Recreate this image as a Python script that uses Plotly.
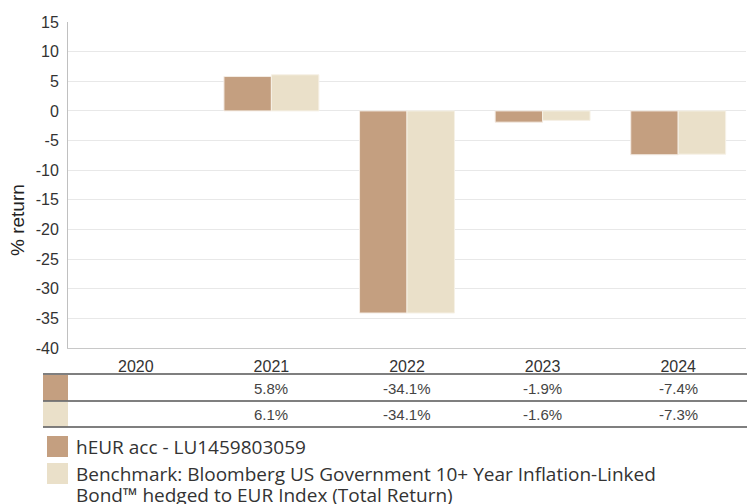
import plotly.graph_objects as go

years = ["2020", "2021", "2022", "2023", "2024"]
fund_name = "hEUR acc - LU1459803059"
bench_name_1 = "Benchmark: Bloomberg US Government 10+ Year Inflation-Linked"
bench_name_2 = "Bond™ hedged to EUR Index (Total Return)"
fund_values = [None, 5.8, -34.1, -1.9, -7.4]
bench_values = [None, 6.1, -34.1, -1.6, -7.3]
y_ticks = [15, 10, 5, 0, -5, -10, -15, -20, -25, -30, -35, -40]
y_tick_text = [str(v) for v in y_ticks]

FUND_COLOR = "#C49F80"
BENCH_COLOR = "#EAE0C9"

W, H = 747, 504
L, R, T, B = 68, 746, 22, 348

xpos = list(range(len(years)))


def px_x(px):
    return (px - L) / (R - L)


def px_y(py):
    return (B - py) / (B - T)


fig = go.Figure()
fig.add_trace(go.Bar(x=xpos, y=fund_values, name=fund_name,
                     marker=dict(color=FUND_COLOR, line=dict(color="#f4ece4", width=1))))
fig.add_trace(go.Bar(x=xpos, y=bench_values, name=bench_name_1,
                     marker=dict(color=BENCH_COLOR, line=dict(color="#f6f1e6", width=1))))

shapes = []
annotations = []

# table lines
for py in [374, 401, 427]:
    shapes.append(dict(type="line", xref="paper", yref="paper",
                       x0=px_x(43), x1=px_x(747), y0=px_y(py), y1=px_y(py),
                       line=dict(color="#555555", width=1.5)))
# swatches
shapes.append(dict(type="rect", xref="paper", yref="paper", x0=px_x(43), x1=px_x(68),
                   y0=px_y(375), y1=px_y(400.5), fillcolor=FUND_COLOR, line=dict(width=0), layer="below"))
shapes.append(dict(type="rect", xref="paper", yref="paper", x0=px_x(43), x1=px_x(68),
                   y0=px_y(402), y1=px_y(426.5), fillcolor=BENCH_COLOR, line=dict(width=0), layer="below"))

# table values
tab_font = dict(size=15, color="#444444", family="Liberation Sans, Arial")
for xp, fv, bv in zip(xpos, fund_values, bench_values):
    if fv is not None:
        annotations.append(dict(x=xp, xref="x", yref="paper", y=px_y(388), text=f"{fv:.1f}%",
                                showarrow=False, font=tab_font, yanchor="middle"))
    if bv is not None:
        annotations.append(dict(x=xp, xref="x", yref="paper", y=px_y(414), text=f"{bv:.1f}%",
                                showarrow=False, font=tab_font, yanchor="middle"))

# legend
shapes.append(dict(type="rect", xref="paper", yref="paper", x0=px_x(47), x1=px_x(68),
                   y0=px_y(436), y1=px_y(457), fillcolor=FUND_COLOR, line=dict(width=0)))
shapes.append(dict(type="rect", xref="paper", yref="paper", x0=px_x(47), x1=px_x(68),
                   y0=px_y(463), y1=px_y(484), fillcolor=BENCH_COLOR, line=dict(width=0)))
leg_font = dict(size=19, color="#333333", family="Open Sans, Noto Sans")
for txt, py in [(fund_name, 447), (bench_name_1, 474), (bench_name_2, 495)]:
    annotations.append(dict(x=px_x(74), y=px_y(py), xref="paper", yref="paper", text=txt,
                            showarrow=False, xanchor="left", yanchor="middle", font=leg_font))

# y axis title
annotations.append(dict(x=px_x(17), y=px_y(220), xref="paper", yref="paper", text="% return",
                        showarrow=False, textangle=-90, xanchor="center", yanchor="middle",
                        font=dict(size=19, color="#222222", family="Liberation Sans, Arial")))

fig.update_layout(
    width=W, height=H,
    margin=dict(l=L, r=W - R, t=T, b=H - B, pad=0),
    paper_bgcolor="white", plot_bgcolor="white",
    showlegend=False,
    barmode="group", bargap=0.3, bargroupgap=0.0,
    shapes=shapes, annotations=annotations,
    xaxis=dict(range=[-0.5, len(years) - 0.5], tickvals=xpos, ticktext=years,
               showgrid=False, zeroline=False, showline=True, linecolor="#c8c8c8", linewidth=1,
               ticks="", automargin=False, ticklabelstandoff=4,
               tickfont=dict(size=16, color="#333333", family="Liberation Sans, Arial")),
    yaxis=dict(range=[-40, 15], tickvals=y_ticks, ticktext=y_tick_text, showgrid=True,
               gridcolor="#e8e8e8", gridwidth=1, automargin=False, ticklabelstandoff=5,
               zeroline=False, showline=True, linecolor="#c0c0c0", linewidth=1, ticks="",
               tickfont=dict(size=16, color="#333333", family="Liberation Sans, Arial")),
    font=dict(family="Liberation Sans, Arial"),
)

fig.write_html("out.html", config={"displayModeBar": False},
               post_script="document.body.style.margin='0';document.body.style.overflow='hidden';")
